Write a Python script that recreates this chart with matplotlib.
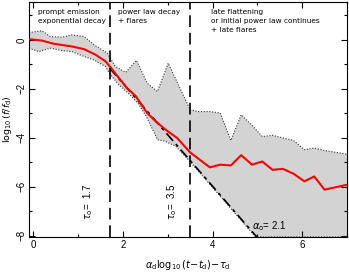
"""
Light curve template: median and spread of log flux vs. rescaled time.
"""

import matplotlib
matplotlib.use('Agg')
import matplotlib.pyplot as plt
import numpy as np
from matplotlib.ticker import MultipleLocator

# Median light curve (red).
med_x = [-0.1, 0.19, 0.45, 0.86, 1.13, 1.39, 1.61, 1.72, 1.91, 2.09, 2.28, 2.54, 2.73, 2.95,
         3.21, 3.5, 3.94, 4.17, 4.41, 4.64, 4.88, 5.11, 5.34, 5.57, 5.81, 6.05, 6.27, 6.5, 7.0]
med_y = [0.03, -0.03, -0.16, -0.27, -0.38, -0.61, -0.88, -1.12, -1.56, -1.97, -2.29, -2.99, -3.33, -3.67,
         -4.01, -4.6, -5.21, -5.1, -5.13, -4.71, -5.1, -4.97, -5.31, -5.27, -5.47, -5.78, -5.58, -6.12, -5.92]

# Upper edge of the spread.
up_x = [-0.1, 0.19, 0.38, 0.64, 0.86, 1.13, 1.35, 1.65, 1.83, 2.06, 2.3, 2.54, 2.77, 3.01,
        3.5, 3.68, 3.94, 4.17, 4.41, 4.64, 4.87, 5.11, 5.34, 5.57, 5.81, 6.05, 6.27, 6.5, 7.0]
up_y = [0.3, 0.37, 0.13, 0.11, 0.2, 0.14, -0.2, -0.54, -1.09, -1.33, -0.84, -1.77, -2.11, -0.95,
        -2.86, -2.93, -2.93, -2.99, -4.11, -3.06, -3.47, -3.95, -3.9, -4.01, -4.11, -4.49, -4.42, -4.52, -4.67]

# Lower edge of the spread.
lo_x = [-0.1, 0.12, 0.38, 0.64, 0.86, 1.13, 1.35, 1.61, 1.72, 1.91, 2.13, 2.36, 2.54, 2.77,
        2.95, 3.18, 3.5, 4.2, 4.96, 7.0]
lo_y = [-0.34, -0.48, -0.34, -0.44, -0.48, -0.68, -0.82, -1.09, -1.43, -1.84, -2.2, -2.65, -3.2, -4.08,
        -4.15, -4.35, -4.98, -6.45, -8.05, -8.05]

# Power law decay and phase boundaries.
tau_breaks = [1.7, 3.5]
alpha0 = 2.1
f_start = -1.15

plt.rcParams['font.family'] = ['Liberation Sans', 'DejaVu Sans']
fig, ax = plt.subplots(figsize=(3.49, 2.72), dpi=100)
fig.subplots_adjust(left=0.083, right=0.994, bottom=0.129, top=0.993)

# Grey spread band with dotted edges.
poly_x = np.concatenate([up_x, lo_x[::-1]])
poly_y = np.concatenate([up_y, lo_y[::-1]])
ax.fill(poly_x, poly_y, fc='#d3d3d3', ec='none', zorder=1)
ax.plot(up_x, up_y, ls=(0, (1, 1.5)), color='#333333', lw=0.8, zorder=2)
ax.plot(lo_x, lo_y, ls=(0, (1, 1.5)), color='#333333', lw=0.8, zorder=2)

# Power law line.
x_pl = np.linspace(tau_breaks[0], 5.2, 50)
y_pl = f_start - alpha0*(x_pl - tau_breaks[0])
ax.plot(x_pl, y_pl, color='black', lw=1.2, ls=(0, (6, 2.5, 2, 2.5)), zorder=3)

# Median.
ax.plot(med_x, med_y, color='red', lw=1.5, zorder=4)

# Phase boundaries.
for tb in tau_breaks:
  ax.axvline(tb, color='black', lw=1.2, ls=(0, (7, 3.5)), zorder=5)

ax.set_xlim(-0.1, 7.0)
ax.set_ylim(-8.05, 1.55)
ax.xaxis.set_major_locator(MultipleLocator(2))
ax.xaxis.set_minor_locator(MultipleLocator(1))
ax.yaxis.set_major_locator(MultipleLocator(2))
ax.yaxis.set_minor_locator(MultipleLocator(1))
ax.tick_params(which='both', direction='in', top=True, right=True, labelsize=7, width=0.8, pad=2)
ax.tick_params(which='major', length=4)
ax.tick_params(which='minor', length=2.5)
for lab in ax.get_yticklabels():
  lab.set_rotation(90)
  lab.set_va('center')
for sp in ax.spines.values():
  sp.set_linewidth(0.8)

ax.set_xlabel(r'$\alpha_{\rm d}\log_{10}(t\!-\!t_{\rm d})\!-\!\tau_{\rm d}$', fontsize=7, labelpad=6)
ax.set_ylabel(r'$\log_{10}(f/f_{\rm d})$', fontsize=6.8)
ax.yaxis.set_label_coords(-0.046, 0.5)

# Phase annotations.
txt_kw = dict(fontsize=5.3, ha='left', va='top', linespacing=1.55, family='DejaVu Sans')
ax.text(0.1, 1.25, 'prompt emission\nexponential decay', **txt_kw)
ax.text(1.88, 1.25, 'power law decay\n+ flares', **txt_kw)
ax.text(3.97, 1.25, 'late flattening\nor initial power law continues\n+ late flares', **txt_kw)

ax.text(1.22, -7.35, r'$\tau_{\rm o}$=  1.7', rotation=90, fontsize=7, ha='center', va='bottom')
ax.text(3.1, -7.35, r'$\tau_{\rm o}$=  3.5', rotation=90, fontsize=7, ha='center', va='bottom')
ax.text(4.88, -7.6, r'$\alpha_{\rm o}$= 2.1', fontsize=7, ha='left', va='center')

fig.savefig('out.png', dpi=100)
